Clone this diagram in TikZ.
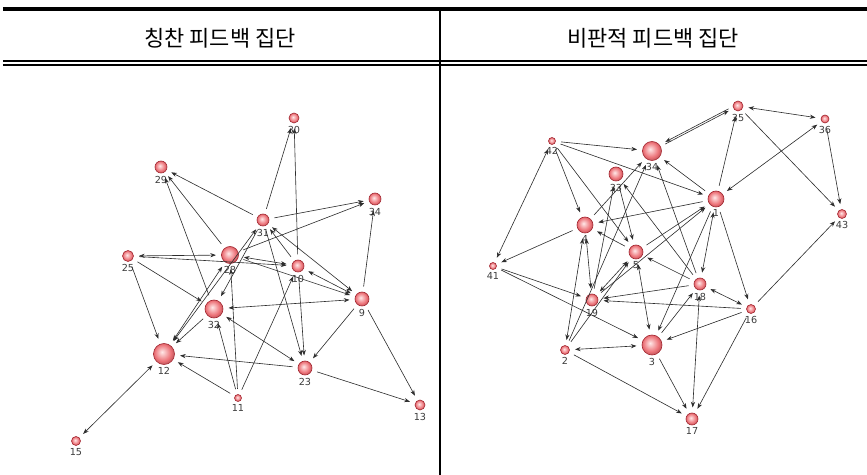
\documentclass[tikz,border=0pt]{standalone}
\usepackage{fontspec}
\newfontfamily\krfont{Noto Sans CJK KR}
\newfontfamily\tagfont{DejaVu Sans}
\usetikzlibrary{arrows.meta}

\begin{document}
\begin{tikzpicture}[x=0.02cm, y=-0.02cm,
    actor/.style={circle, draw=nodeedge, line width=0.35pt, shading=pinkball, inner sep=0pt, minimum size=#1*0.02cm},
    tag/.style={font=\tagfont\fontsize{5.5}{6}\selectfont, text=labelcolor, inner sep=0.5pt},
    every label/.style={tag},
    label distance=0.8pt,
    link/.style={draw=linkcolor, line width=0.35pt, -{Stealth[length=3.2pt,width=2.4pt]}, shorten >=3pt, shorten <=3pt},
    twoway/.style={link, {Stealth[length=3.2pt,width=2.4pt]}-{Stealth[length=3.2pt,width=2.4pt]}},
    head/.style={font=\krfont\fontsize{12.5}{15}\selectfont, inner sep=0pt},
    rule/.style={draw=black, line width=#1}]

        % Define colors
        \definecolor{nodefill}{RGB}{236, 112, 118}   % Pink red
        \definecolor{nodelight}{RGB}{255, 232, 232}  % Highlight
        \definecolor{nodeedge}{RGB}{165, 40, 50}     % Dark red
        \definecolor{linkcolor}{RGB}{45, 45, 45}     % Dark gray
        \definecolor{labelcolor}{RGB}{60, 60, 60}    % Gray
        \pgfdeclareradialshading{pinkball}{\pgfpoint{-5bp}{5bp}}{%
            color(0bp)=(nodelight); color(8bp)=(nodelight!60!nodefill);
            color(20bp)=(nodefill); color(25bp)=(nodefill!85!black);
            color(50bp)=(nodefill!85!black)}

        \useasboundingbox (0,0) rectangle (867,475);

        % Draw table rules
        \draw[rule=1.8pt] (3,9) -- (867,9);
        \draw[rule=0.9pt] (3,61) -- (867,61);
        \draw[rule=0.9pt] (3,65) -- (867,65);
        \draw[rule=0.6pt] (440,9) -- (440,475);

        % Draw column heads
        \node[head] (headpraise) at (220,38) {칭찬 피드백 집단};
        \node[head] (headcritic) at (653,38) {비판적 피드백 집단};

        % Draw praise group actors
        \node[actor=10, label=below:30] (p30) at (294,118) {};
        \node[actor=12, label=below:29] (p29) at (161,167) {};
        \node[actor=12, label=below:34] (p34) at (375,199) {};
        \node[actor=12, label=below:31] (p31) at (263,220) {};
        \node[actor=11, label=below:25] (p25) at (128,256) {};
        \node[actor=17, label=below:28] (p28) at (230,255) {};
        \node[actor=12, label=below:10] (p10) at (298,266) {};
        \node[actor=14, label=below:9] (p9) at (362,299) {};
        \node[actor=18, label=below:32] (p32) at (214,309) {};
        \node[actor=21, label=below:12] (p12) at (164,354) {};
        \node[actor=14, label=below:23] (p23) at (305,368) {};
        \node[actor=7, label=below:11] (p11) at (238,398) {};
        \node[actor=10, label=below:13] (p13) at (420,405) {};
        \node[actor=9, label=below:15] (p15) at (76,441) {};

        % Draw praise group ties
        \draw[link] (p31) -- (p29);
        \draw[link] (p28) -- (p29);
        \draw[link] (p32) -- (p29);
        \draw[link] (p31) -- (p30);
        \draw[link] (p10) -- (p30);
        \draw[link] (p31) -- (p34);
        \draw[link] (p28) -- (p34);
        \draw[link] (p9) -- (p34);
        \draw[twoway] (p25) -- (p28);
        \draw[link] (p25) -- (p10);
        \draw[twoway] (p28) -- (p10);
        \draw[link] (p28) -- (p9);
        \draw[twoway] (p10) -- (p9);
        \draw[twoway] (p31) -- (p9);
        \draw[link] (p10) -- (p31);
        \draw[twoway] (p12) -- (p28);
        \draw[twoway] (p12) -- (p31);
        \draw[link] (p31) -- (p32);
        \draw[link] (p25) -- (p12);
        \draw[link] (p25) -- (p32);
        \draw[link] (p32) -- (p12);
        \draw[link] (p23) -- (p12);
        \draw[link] (p11) -- (p12);
        \draw[link] (p11) -- (p32);
        \draw[link] (p11) -- (p28);
        \draw[link] (p11) -- (p10);
        \draw[twoway] (p15) -- (p12);
        \draw[twoway] (p32) -- (p9);
        \draw[twoway] (p32) -- (p23);
        \draw[link] (p31) -- (p23);
        \draw[link] (p10) -- (p23);
        \draw[link] (p9) -- (p23);
        \draw[link] (p23) -- (p13);
        \draw[link] (p9) -- (p13);

        % Draw critique group actors
        \node[actor=10, label=below:35] (c35) at (738,106) {};
        \node[actor=8, label=below:36] (c36) at (825,119) {};
        \node[actor=7, label=below:42] (c42) at (552,141) {};
        \node[actor=19, label=below:34] (c34) at (652,151) {};
        \node[actor=14, label=below:33] (c33) at (616,174) {};
        \node[actor=16, label=below:1] (c1) at (716,199) {};
        \node[actor=9, label=below:43] (c43) at (842,214) {};
        \node[actor=16, label=below:4] (c4) at (585,225) {};
        \node[actor=14, label=below:5] (c5) at (636,252) {};
        \node[actor=7, label=below:41] (c41) at (493,266) {};
        \node[actor=12, label=below:18] (c18) at (700,284) {};
        \node[actor=9, label=below:16] (c16) at (751,309) {};
        \node[actor=12, label=below:19] (c19) at (592,300) {};
        \node[actor=9, label=below:2] (c2) at (565,350) {};
        \node[actor=20, label=below:3] (c3) at (652,345) {};
        \node[actor=12, label=below:17] (c17) at (692,419) {};

        % Draw critique group ties
        \draw[link] (c42) -- (c34);
        \draw[link] (c42) -- (c1);
        \draw[link] (c42) -- (c4);
        \draw[link] (c42) -- (c5);
        \draw[twoway] (c41) -- (c42);
        \draw[link] (c4) -- (c41);
        \draw[link] (c41) -- (c19);
        \draw[link] (c41) -- (c3);
        \draw[link] (c34) -- (c35);
        \draw[link, transform canvas={yshift=1.2pt}] (c35) -- (c34);
        \draw[twoway] (c35) -- (c36);
        \draw[link] (c1) -- (c35);
        \draw[twoway] (c1) -- (c36);
        \draw[link] (c35) -- (c43);
        \draw[link] (c36) -- (c43);
        \draw[link] (c16) -- (c43);
        \draw[link] (c1) -- (c34);
        \draw[link] (c1) -- (c4);
        \draw[twoway] (c1) -- (c18);
        \draw[link] (c1) -- (c16);
        \draw[link] (c1) -- (c3);
        \draw[link] (c5) -- (c1);
        \draw[link] (c19) -- (c1);
        \draw[link] (c4) -- (c34);
        \draw[link] (c2) -- (c34);
        \draw[link] (c18) -- (c34);
        \draw[link] (c18) -- (c33);
        \draw[link] (c33) -- (c5);
        \draw[link] (c19) -- (c33);
        \draw[link] (c5) -- (c4);
        \draw[link] (c18) -- (c5);
        \draw[twoway] (c4) -- (c19);
        \draw[twoway] (c4) -- (c2);
        \draw[twoway] (c19) -- (c5);
        \draw[link] (c2) -- (c5);
        \draw[twoway] (c5) -- (c3);
        \draw[link] (c3) -- (c18);
        \draw[twoway] (c18) -- (c16);
        \draw[link] (c16) -- (c19);
        \draw[link] (c18) -- (c19);
        \draw[link] (c16) -- (c3);
        \draw[twoway] (c2) -- (c3);
        \draw[link] (c2) -- (c17);
        \draw[link] (c3) -- (c17);
        \draw[twoway] (c18) -- (c17);
        \draw[link] (c16) -- (c17);

\end{tikzpicture}
\end{document}
